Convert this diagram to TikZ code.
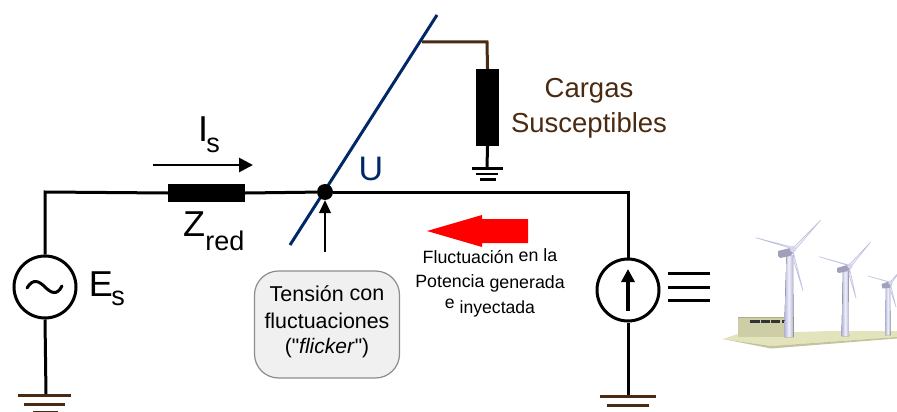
\documentclass[tikz,border=0pt]{standalone}
\usepackage{fontspec}
\setmainfont[Ligatures=TeXOff]{Liberation Sans}
\usetikzlibrary{arrows.meta,calc}
\definecolor{navyline}{HTML}{002868}
\definecolor{brownline}{HTML}{4A2A10}
\definecolor{towerlight}{HTML}{F0F0FC}
\definecolor{towerdark}{HTML}{B0B0D4}
\definecolor{bladeedge}{HTML}{C0C0E0}
\definecolor{nacellecol}{HTML}{A0A0BC}
\definecolor{padtop}{HTML}{E4E4BC}
\definecolor{padside}{HTML}{C4C49C}
\definecolor{hut}{HTML}{CDCDA6}
\tikzset{
  x=1pt,y=-1pt,
  wire/.style={line width=3pt,black},
  impbox/.style={fill=black,draw=none,inner sep=0pt,minimum width=#1},
  source/.style={circle,draw=black,line width=3pt,fill=white,minimum size=62pt,inner sep=0pt},
  lbl/.style={inner sep=0pt,text=black,anchor=base},
  blade/.style={fill=towerlight,draw=bladeedge,line width=.6pt,line join=round},
  nacelle/.style={fill=nacellecol,draw=none},
  tower/.style={left color=towerdark,right color=towerdark,middle color=towerlight,draw=none},
}
\begin{document}
\begin{tikzpicture}
\useasboundingbox (0,0) rectangle (897,412);
\clip (0,0) rectangle (897,412);

% ---- named places
\coordinate (busL) at (46,192);
\coordinate (busR) at (628,192);
\coordinate (gndL) at (46,395);
\coordinate (gndR) at (628,396);
\coordinate (gndM) at (487,168);
\coordinate (tapA) at (422,42);
\coordinate (tapB) at (487,42);
\coordinate (uTop) at (437,15);
\coordinate (uBot) at (290,245);
\coordinate (iA) at (153,165);
\coordinate (iB) at (253,165);
\coordinate (arrowFoot) at (325,252);

% ---- blue line under the dot
\draw[navyline,line width=3pt] (uBot) -- (uTop);

% ---- components
\node[impbox=77pt,minimum height=18pt] (zred) at (206.5,193) {};
\node[impbox=23pt,minimum height=77pt] (load) at (487.5,107.5) {};
\node[source] (es) at (45,287) {};
\node[source] (is) at (628,290) {};
\node[circle,fill=black,minimum size=16pt,inner sep=0pt] (bus) at (325,192) {};

% ---- wiring
\draw[wire] (es.north) -- (es.north |- busL) -- (zred.west);
\draw[wire] (zred.east) -- (bus);
\draw[wire] (bus) -- (busR) -- (is.north);
\draw[wire] (es.south) -- (gndL);
\draw[wire] (is.south) -- (gndR);
\draw[wire] (load.south) -- (gndM);
\draw[line width=3pt,brownline] (tapA) -- (tapB) -- (load.north);

% ---- grounds
\draw[brownline,line width=3pt] (18,395) -- (71,395);
\draw[brownline,line width=3pt] (24,404.5) -- (65,404.5);
\draw[brownline,line width=2pt] (33,411.5) -- (58,411.5);
\draw[brownline,line width=3pt] (600,396) -- (656,396);
\draw[brownline,line width=3pt] (607,405) -- (649,405);
\draw[black,line width=3pt] (472,168) -- (503,168);
\draw[black,line width=2.5pt] (476,174) -- (498,174);
\draw[black,line width=2.5pt] (480,179.5) -- (496,179.5);

% ---- source symbols
\draw[line width=3pt,line cap=round] (27,288)
  .. controls (33,278) and (39,281) .. (45,287)
  .. controls (51,293) and (57,296) .. (62,286);
\draw[line width=3.5pt,-{Triangle[length=13pt,width=13pt]}] (is.center |- 0,311) -- (is.center |- 0,269);

% ---- arrows
\draw[line width=2.8pt,-{Triangle[length=14pt,width=14pt]}] (iA) -- (iB);
\draw[line width=1.2pt,-{Triangle[length=13pt,width=12pt]}] (arrowFoot) -- (bus.south);
\fill[red] (427,231) -- (482,215) -- (482,219) -- (528,219) -- (528,243) -- (482,243) -- (482,247) -- cycle;

% ---- equivalence bars
\draw[line width=3pt] (668,273) -- (710,273);
\draw[line width=3pt] (668,287) -- (710,287);
\draw[line width=3pt] (668,300) -- (710,300);

% ---- callout
\node[draw=black!45,line width=1.2pt,fill=black!6,rounded corners=24pt,minimum width=145pt,minimum height=107pt,inner sep=0pt] (callout) at (327,324.5) {};
\node[lbl,font=\fontsize{21.5}{21.5}\selectfont] (t1) at (327,301) {Tensión \raisebox{1pt}{con}};
\node[lbl,font=\fontsize{21.4}{21.4}\selectfont] (t2) at (327,328) {fluctuaciones};
\node[lbl,font=\fontsize{21}{21}\selectfont] (t3) at (327,353) {("\textit{flicker}")};

% ---- labels
\node[lbl,font=\fontsize{36}{36}\selectfont] (lI) at (203,141) {I};
\node[lbl,font=\fontsize{27}{27}\selectfont] (lIs) at (213,152) {s};
\node[lbl,font=\fontsize{36}{36}\selectfont] (lZ) at (194,236) {Z};
\node[lbl,font=\fontsize{27}{27}\selectfont] (lZr) at (225,250) {red};
\node[lbl,font=\fontsize{36}{36}\selectfont] (lE) at (101,296) {E};
\node[lbl,font=\fontsize{27}{27}\selectfont] (lEs) at (118,305) {s};
\node[lbl,font=\fontsize{34}{34}\selectfont,text=navyline] (lU) at (371,180) {U};
\node[lbl,font=\fontsize{27.5}{27.5}\selectfont,text=brownline] (c1) at (589,97) {Cargas};
\node[lbl,font=\fontsize{27.5}{27.5}\selectfont,text=brownline] (c2) at (589,132) {Susceptibles};
\node[lbl,font=\fontsize{17.8}{17.8}\selectfont] (f1) at (490,263) {Fluctuación \raisebox{1.5pt}{en la}};
\node[lbl,font=\fontsize{17.8}{17.8}\selectfont] (f2) at (490,287) {Potencia \raisebox{-1.5pt}{generada}};
\node[lbl,font=\fontsize{17.6}{17.6}\selectfont] (f3) at (490,313) {\raisebox{5pt}{e} inyectada};

% ---- wind farm
\fill[padtop] (722.7,339) -- (738,334) -- (830,331) -- (897,331) -- (897,337) -- (771,346) -- cycle;
\fill[padside] (722.7,339) -- (771,346) -- (897,337) -- (897,338.5) -- (771,348.5) -- cycle;
\fill[hut] (738,317) -- (794,317) -- (794,337) -- (738,337) -- cycle;
\fill[hut!85!black] (738,316.5) -- (794,316.5) -- (794,318) -- (738,318) -- cycle;
\fill[black!80] (750,320) rectangle (760,322.6);
\fill[black!80] (761,320) rectangle (770,322.6);
\fill[black!80] (771,320) rectangle (780,322.6);
\fill[black!80] (782,320) rectangle (790,322.6);

% turbine 1
\fill[tower] (786.5,255) -- (793,255) -- (793.5,337) -- (784,337) -- cycle;
\fill[nacelle] (778,251) -- (790,248) -- (793,253) -- (790,256) -- (780,258) -- (778,256) -- cycle;
\fill[blade] (793,249) -- (755.7,237.7) -- (790,246.5) -- cycle;
\fill[blade] (793,248) -- (820.7,220) -- (795,250) -- cycle;
\fill[blade] (793,251) -- (803,290.7) -- (794,262) -- cycle;
\fill[towerlight!60!towerdark] (793,249) circle (3.3pt);

% turbine 2
\fill[tower] (843,271) -- (848.5,271) -- (849,336) -- (841.5,336) -- cycle;
\fill[nacelle] (837,268) -- (847,265) -- (851,268) -- (848,271) -- (839,273) -- (837,272) -- cycle;
\fill[blade] (850,266) -- (819,256.7) -- (847,264.5) -- cycle;
\fill[blade] (849,265) -- (870.7,242) -- (851,266.5) -- cycle;
\fill[blade] (849.5,268) -- (856,298) -- (849,275) -- cycle;
\fill[towerlight!60!towerdark] (850,266) circle (2.7pt);

% turbine 3
\fill[tower] (886,288) -- (890,288) -- (890.5,335) -- (885,335) -- cycle;
\fill[nacelle] (881.5,284) -- (889,281.5) -- (892,284) -- (890,288) -- (882.5,288.5) -- cycle;
\fill[blade] (890.5,282.5) -- (868,276) -- (888,281.5) -- cycle;
\fill[blade] (890,282) -- (901,270) -- (891.5,283) -- cycle;
\fill[blade] (890.5,284) -- (896,307) -- (890,289) -- cycle;
\fill[towerlight!60!towerdark] (890.5,282.7) circle (2.2pt);
\end{tikzpicture}
\end{document}
